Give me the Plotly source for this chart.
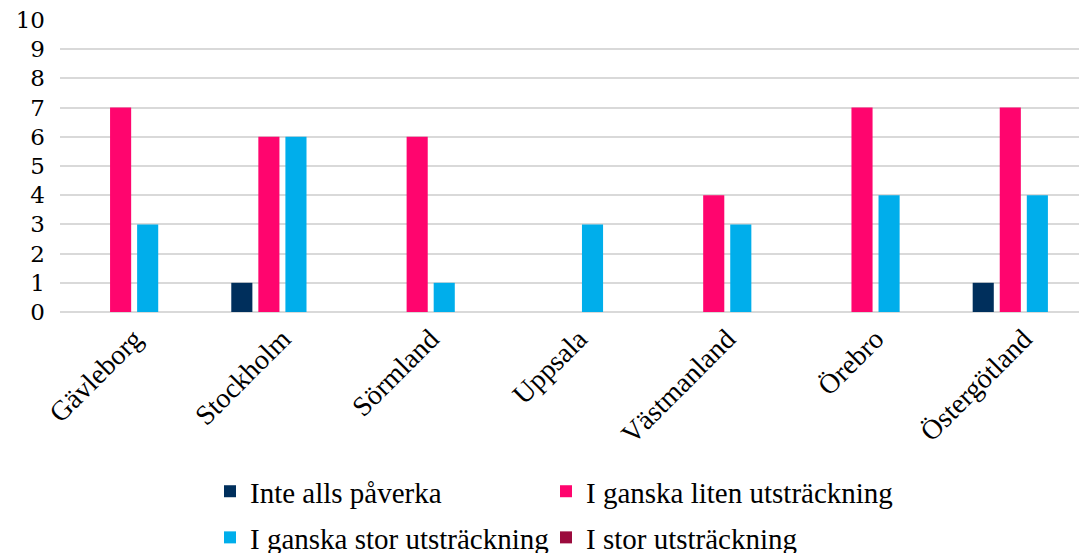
import plotly.graph_objects as go

categories = ["Gävleborg", "Stockholm", "Sörmland", "Uppsala", "Västmanland", "Örebro", "Östergötland"]
series_names = ["Inte alls påverka", "I ganska liten utsträckning", "I ganska stor utsträckning", "I stor utsträckning"]
inte_alls = [0, 1, 0, 0, 0, 0, 1]
ganska_liten = [7, 6, 6, 0, 4, 7, 7]
ganska_stor = [3, 6, 1, 3, 3, 4, 4]
stor = [0, 0, 0, 0, 0, 0, 0]
colors = ["#002F5C", "#FF056E", "#00AEEB", "#9B0B3D"]
legend_ids = ["legend", "legend2", "legend3", "legend4"]
y_ticks = list(range(0, 11))

FONT = "Liberation Serif"
L, T, B = 52, 12, 249
PW = 1087 - L

fig = go.Figure()
for name, vals, col, lg in zip(series_names, [inte_alls, ganska_liten, ganska_stor, stor], colors, legend_ids):
    fig.add_trace(go.Bar(x=categories, y=vals, name=name, marker_color=col,
                         marker_line_width=0, legend=lg))

legend_style = dict(orientation="v", yanchor="top", xanchor="left",
                    font=dict(family=FONT, size=29, color="#000000"),
                    itemwidth=30, bgcolor="rgba(0,0,0,0)")
col1_x = (202 - L) / PW
col2_x = (538 - L) / PW
row1_y = -0.527
row2_y = -0.685

fig.update_layout(
    width=1087, height=553,
    margin=dict(l=L, r=0, t=T, b=B, autoexpand=False),
    paper_bgcolor="white", plot_bgcolor="white",
    barmode="group", bargap=0.27, bargroupgap=0.22,
    font=dict(family=FONT, color="#000000"),
    showlegend=True,
    legend=dict(legend_style, x=col1_x, y=row1_y),
    legend2=dict(legend_style, x=col2_x, y=row1_y),
    legend3=dict(legend_style, x=col1_x, y=row2_y),
    legend4=dict(legend_style, x=col2_x, y=row2_y),
    xaxis=dict(range=[-0.5, 6.48], tickangle=-45, showgrid=False, showline=False,
               ticks="", tickfont=dict(family=FONT, size=28), ticklabelstandoff=4,
               automargin=False),
    yaxis=dict(range=[0, 10.0001], tickvals=y_ticks, showgrid=True, gridcolor="#D9D9D9",
               gridwidth=1.5, zeroline=True, zerolinecolor="#D9D9D9", zerolinewidth=1.5,
               showline=False, ticks="", tickfont=dict(family="DejaVu Serif", size=23),
               ticklabelstandoff=14, automargin=False, ticklabeloverflow="allow"),
)

fig.write_html("out.html")
